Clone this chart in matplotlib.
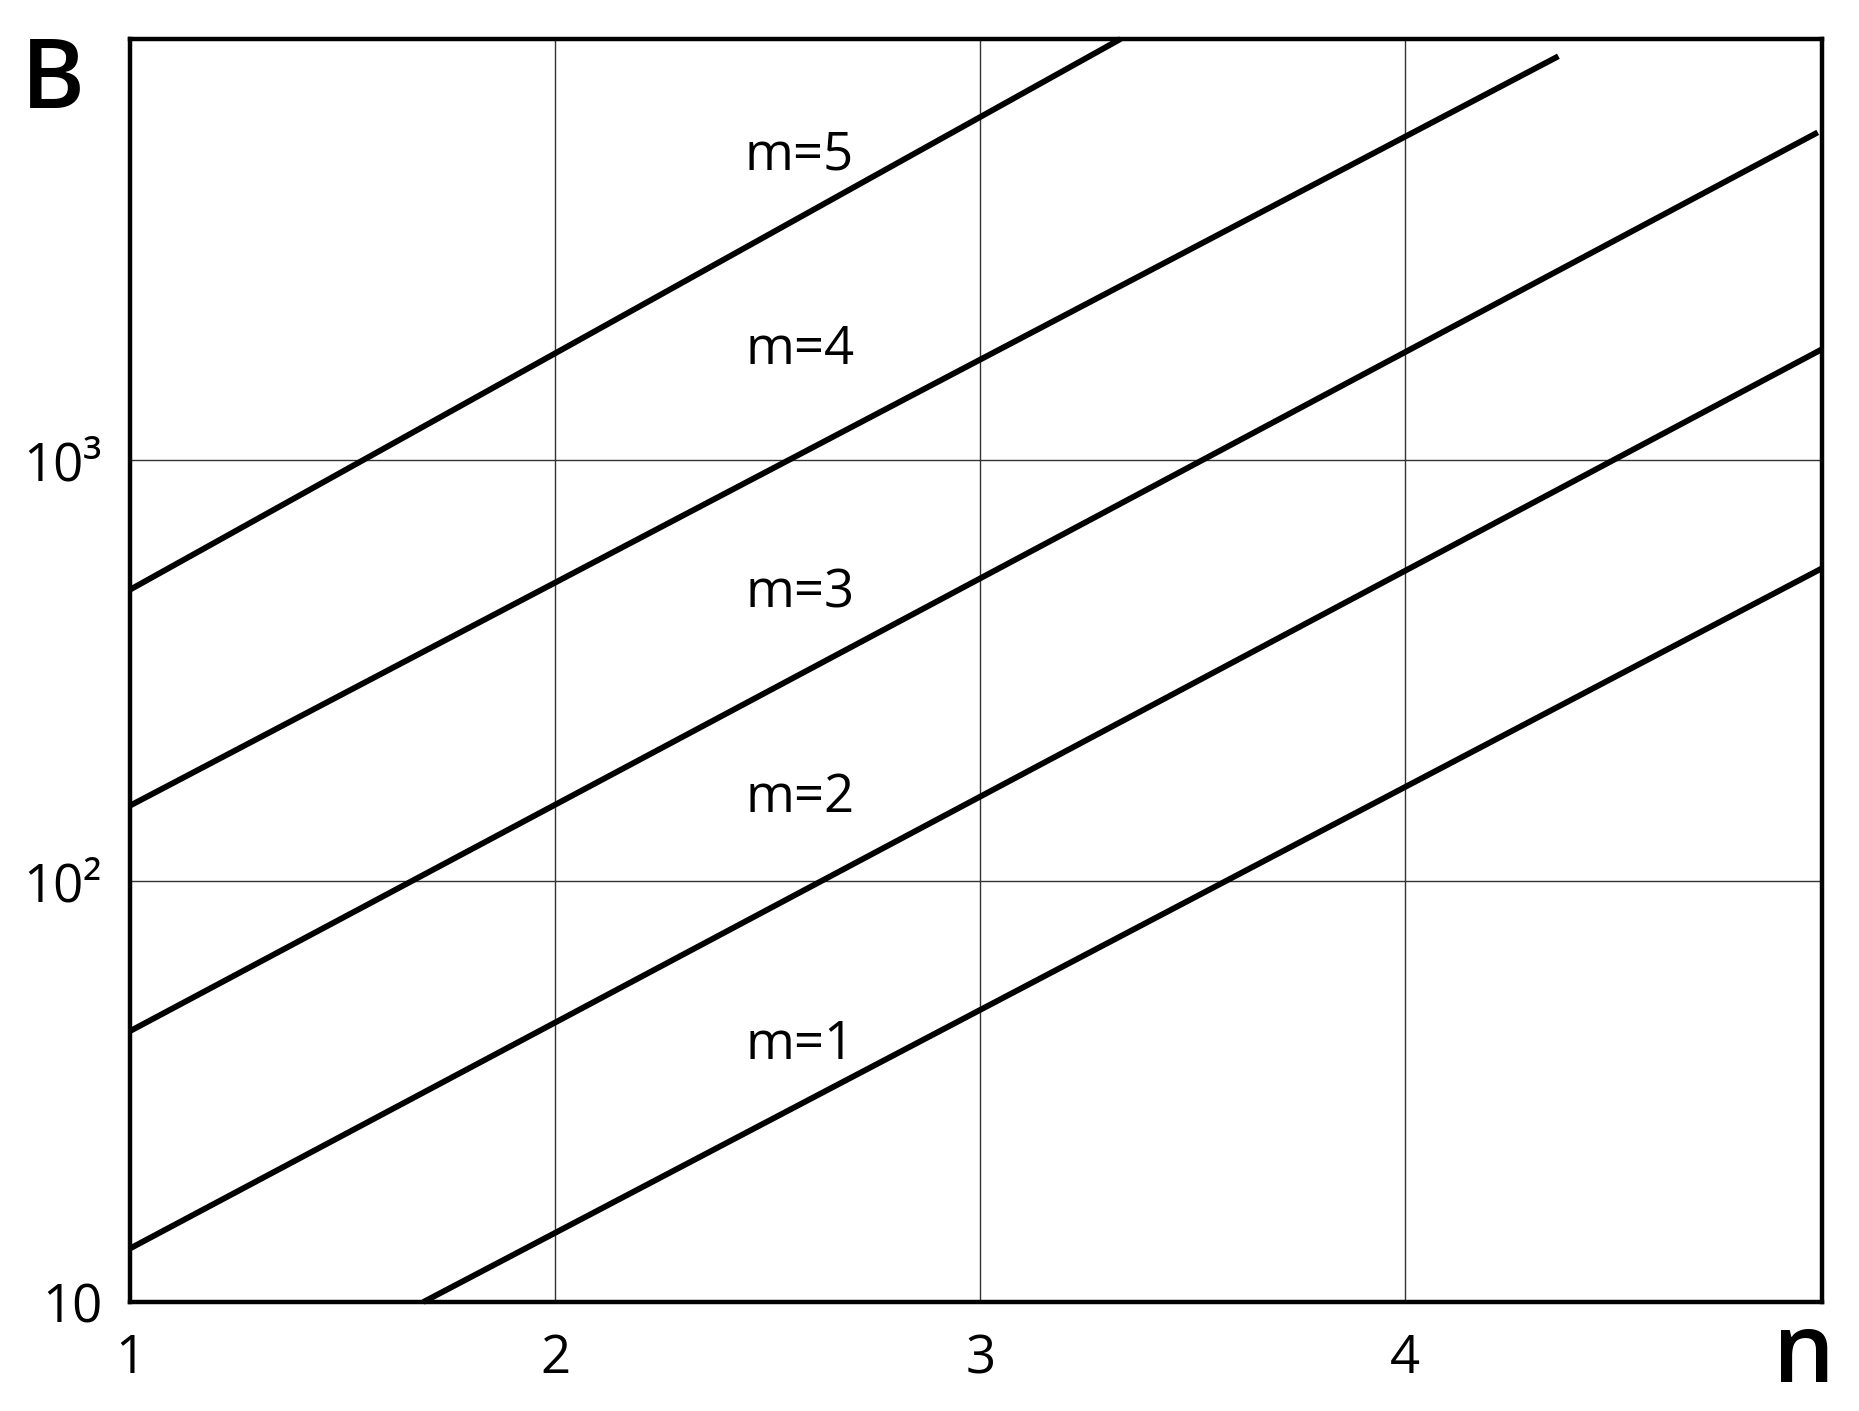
import matplotlib
matplotlib.use("Agg")
import matplotlib.pyplot as plt

plt.rcParams['font.family'] = ['Open Sans', 'DejaVu Sans']

# Data (straight lines on semi-log axes)
m_values = [1, 2, 3, 4, 5]
n_start = [1.69, 1.0, 1.0, 1.0, 1.0]
n_end = [4.98, 4.98, 4.97, 4.36, 3.33]
B_start = [10.0, 13.4, 44.0, 151.0, 492.0]
B_end = [553.0, 1833.0, 6000.0, 9100.0, 10000.0]

label_n = [2.575, 2.575, 2.575, 2.575, 2.575]
label_B = [40.7, 157.0, 480.0, 1820.0, 5275.0]

x_ticks = [1, 2, 3, 4]
x_ticklabels = ['1', '2', '3', '4']
y_ticks = [10, 100, 1000]
y_ticklabels = ['10', '10²', '10³']

fig = plt.figure(figsize=(18.59, 14.11), dpi=100)
ax = fig.add_axes([130 / 1859, 1 - 1302 / 1411, (1822 - 130) / 1859, (1302 - 39) / 1411])

ax.set_yscale('log')
ax.set_xlim(1, 4.98)
ax.set_ylim(10, 10000)

for i in range(len(m_values)):
    ax.plot([n_start[i], n_end[i]], [B_start[i], B_end[i]], color='black', lw=4.2,
            solid_capstyle='butt', clip_on=False, zorder=3)
    ax.text(label_n[i], label_B[i], f'm={m_values[i]}', fontsize=38, ha='center', va='center',
            color='black')

ax.set_xticks(x_ticks)
ax.set_xticklabels(x_ticklabels)
ax.set_yticks(y_ticks)
ax.set_yticklabels(y_ticklabels)
ax.yaxis.set_minor_locator(matplotlib.ticker.NullLocator())
ax.tick_params(axis='both', length=0, labelsize=38)
ax.tick_params(axis='x', pad=22)
ax.tick_params(axis='y', pad=20)

ax.grid(True, which='major', color='#333333', lw=1.0)
for s in ax.spines.values():
    s.set_linewidth(3.2)
    s.set_color('black')

fig.text(53 / 1859, 1 - 83 / 1411, 'B', fontsize=70, ha='center', va='center', fontweight='semibold')
fig.text(1804 / 1859, 1 - 1357 / 1411, 'n', fontsize=70, ha='center', va='center', fontweight='semibold')

fig.savefig('out.png', dpi=100, facecolor='white')
